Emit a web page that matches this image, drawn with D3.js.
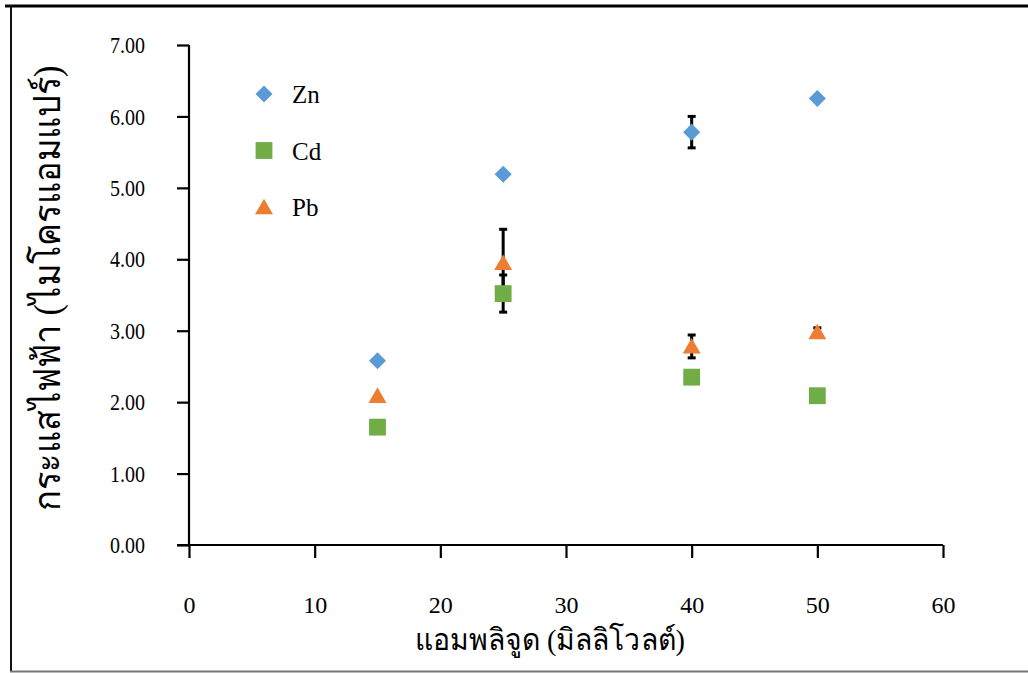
<!DOCTYPE html>
<html>
<head>
<meta charset="utf-8">
<script src="https://cdn.jsdelivr.net/npm/d3@7"></script>
<style>
  html, body { margin: 0; padding: 0; background: #fff; }
  svg { display: block; }
</style>
</head>
<body>
<svg id="chart" width="1028" height="673"></svg>
<script>
// Potential (mV) at which each metal was measured
const potentials = [15, 25, 40, 50];

// Peak current (µA) and its standard deviation per metal
const znValues = [2.58, 5.19, 5.78, 6.25];
const znErrors = [0.00, 0.00, 0.22, 0.00];
const cdValues = [1.65, 3.52, 2.35, 2.09];
const cdErrors = [0.00, 0.26, 0.00, 0.00];
const pbValues = [2.09, 3.95, 2.78, 2.98];
const pbErrors = [0.00, 0.47, 0.16, 0.06];

const seriesNames = ["Zn", "Cd", "Pb"];
const xTicks = [0, 10, 20, 30, 40, 50, 60];
const yTicks = [0, 1, 2, 3, 4, 5, 6, 7];

const xTitle = "แอมพลิจูด (มิลลิโวลต์)";
const yTitle = "กระแสไฟฟ้า (ไมโครแอมแปร์)";

const series = [
  { name: seriesNames[0], values: znValues, errors: znErrors, color: "#5B9BD5", shape: "diamond" },
  { name: seriesNames[1], values: cdValues, errors: cdErrors, color: "#70AD47", shape: "square" },
  { name: seriesNames[2], values: pbValues, errors: pbErrors, color: "#ED7D31", shape: "triangle" }
];

const svg = d3.select("#chart");
const W = 1028, H = 673;
const plot = { left: 189, right: 943, top: 45, bottom: 545 };

const x = d3.scaleLinear().domain([0, 60]).range([plot.left, plot.right]);
const y = d3.scaleLinear().domain([0, 7]).range([plot.bottom, plot.top]);

// Outer frame
svg.append("line").attr("x1", 5).attr("x2", W).attr("y1", 6).attr("y2", 6)
  .attr("stroke", "#000").attr("stroke-width", 3);
svg.append("line").attr("x1", 11).attr("x2", 11).attr("y1", 5).attr("y2", 672)
  .attr("stroke", "#111").attr("stroke-width", 2);
svg.append("line").attr("x1", 10).attr("x2", W).attr("y1", 671.5).attr("y2", 671.5)
  .attr("stroke", "#777").attr("stroke-width", 2);

const serifFont = "Liberation Serif";

// Axes
const xAxis = d3.axisBottom(x).tickValues(xTicks).tickFormat(d3.format("d"))
  .tickSizeInner(13).tickSizeOuter(0).tickPadding(38);
const gx = svg.append("g").attr("transform", `translate(0,${plot.bottom})`).call(xAxis);

const yAxis = d3.axisLeft(y).tickValues(yTicks).tickFormat(d3.format(".2f"))
  .tickSizeInner(12).tickSizeOuter(0).tickPadding(32);
const gy = svg.append("g").attr("transform", `translate(${plot.left},0)`).call(yAxis);

[gx, gy].forEach(g => {
  g.attr("font-family", serifFont).attr("font-size", 24);
  g.select(".domain").attr("stroke", "#000").attr("stroke-width", 2.2);
  g.selectAll(".tick line").attr("stroke", "#000").attr("stroke-width", 2.2);
  g.selectAll(".tick text").attr("fill", "#000")
    .attr("font-family", serifFont).attr("font-size", 24);
});
// Slightly narrow lettering on the value axis
gy.selectAll(".tick text").attr("textLength", 35).attr("lengthAdjust", "spacingAndGlyphs");
gy.select(".domain").attr("d", `M0,${plot.bottom}V${plot.top}`);
gx.select(".domain").attr("d", `M${plot.left - 12},0H${plot.right}`);

// Axis titles (condensed Thai lettering)
svg.append("text").attr("x", 550).attr("y", 650).attr("text-anchor", "middle")
  .attr("font-family", serifFont).attr("font-size", 30).attr("fill", "#000")
  .attr("textLength", 270).attr("lengthAdjust", "spacingAndGlyphs")
  .text(xTitle);
svg.append("text").attr("transform", "translate(60,288) rotate(-90)")
  .attr("text-anchor", "middle")
  .attr("font-family", serifFont).attr("font-size", 37).attr("fill", "#000")
  .attr("textLength", 445).attr("lengthAdjust", "spacingAndGlyphs")
  .text(yTitle);

// Marker shapes
const symbolFor = {
  diamond: d3.symbol().type(d3.symbolDiamond2).size(185),
  square: d3.symbol().type(d3.symbolSquare2).size(360),
  triangle: d3.symbol().type(d3.symbolTriangle2).size(230)
};

const points = series.flatMap(s => s.values.map((v, i) => ({
  s, x: potentials[i], v, e: s.errors[i]
})));

// Error bars drawn beneath all markers
const eb = svg.append("g").attr("stroke", "#000").attr("stroke-width", 3);
points.filter(p => p.e > 0).forEach(p => {
  const cx = x(p.x), y1 = y(p.v + p.e), y2 = y(p.v - p.e);
  eb.append("line").attr("x1", cx).attr("x2", cx).attr("y1", y1).attr("y2", y2);
  eb.append("line").attr("x1", cx - 4).attr("x2", cx + 4).attr("y1", y1).attr("y2", y1);
  eb.append("line").attr("x1", cx - 4).attr("x2", cx + 4).attr("y1", y2).attr("y2", y2);
});

// Markers
svg.append("g").selectAll("path").data(points).join("path")
  .attr("transform", d => `translate(${x(d.x)},${y(d.v) + (d.s.shape === "triangle" ? 2 : 0)})`)
  .attr("d", d => symbolFor[d.s.shape]())
  .attr("fill", d => d.s.color);

// Legend
const legend = svg.append("g").attr("transform", "translate(264,94)");
series.forEach((s, i) => {
  const g = legend.append("g").attr("transform", `translate(0,${i * 56.5})`);
  g.append("path")
    .attr("transform", s.shape === "triangle" ? "translate(0,2)" : null)
    .attr("d", symbolFor[s.shape]()).attr("fill", s.color);
  g.append("text").attr("x", 28).attr("y", 9)
    .attr("font-family", serifFont).attr("font-size", 25).attr("fill", "#000")
    .text(s.name);
});
</script>
</body>
</html>
